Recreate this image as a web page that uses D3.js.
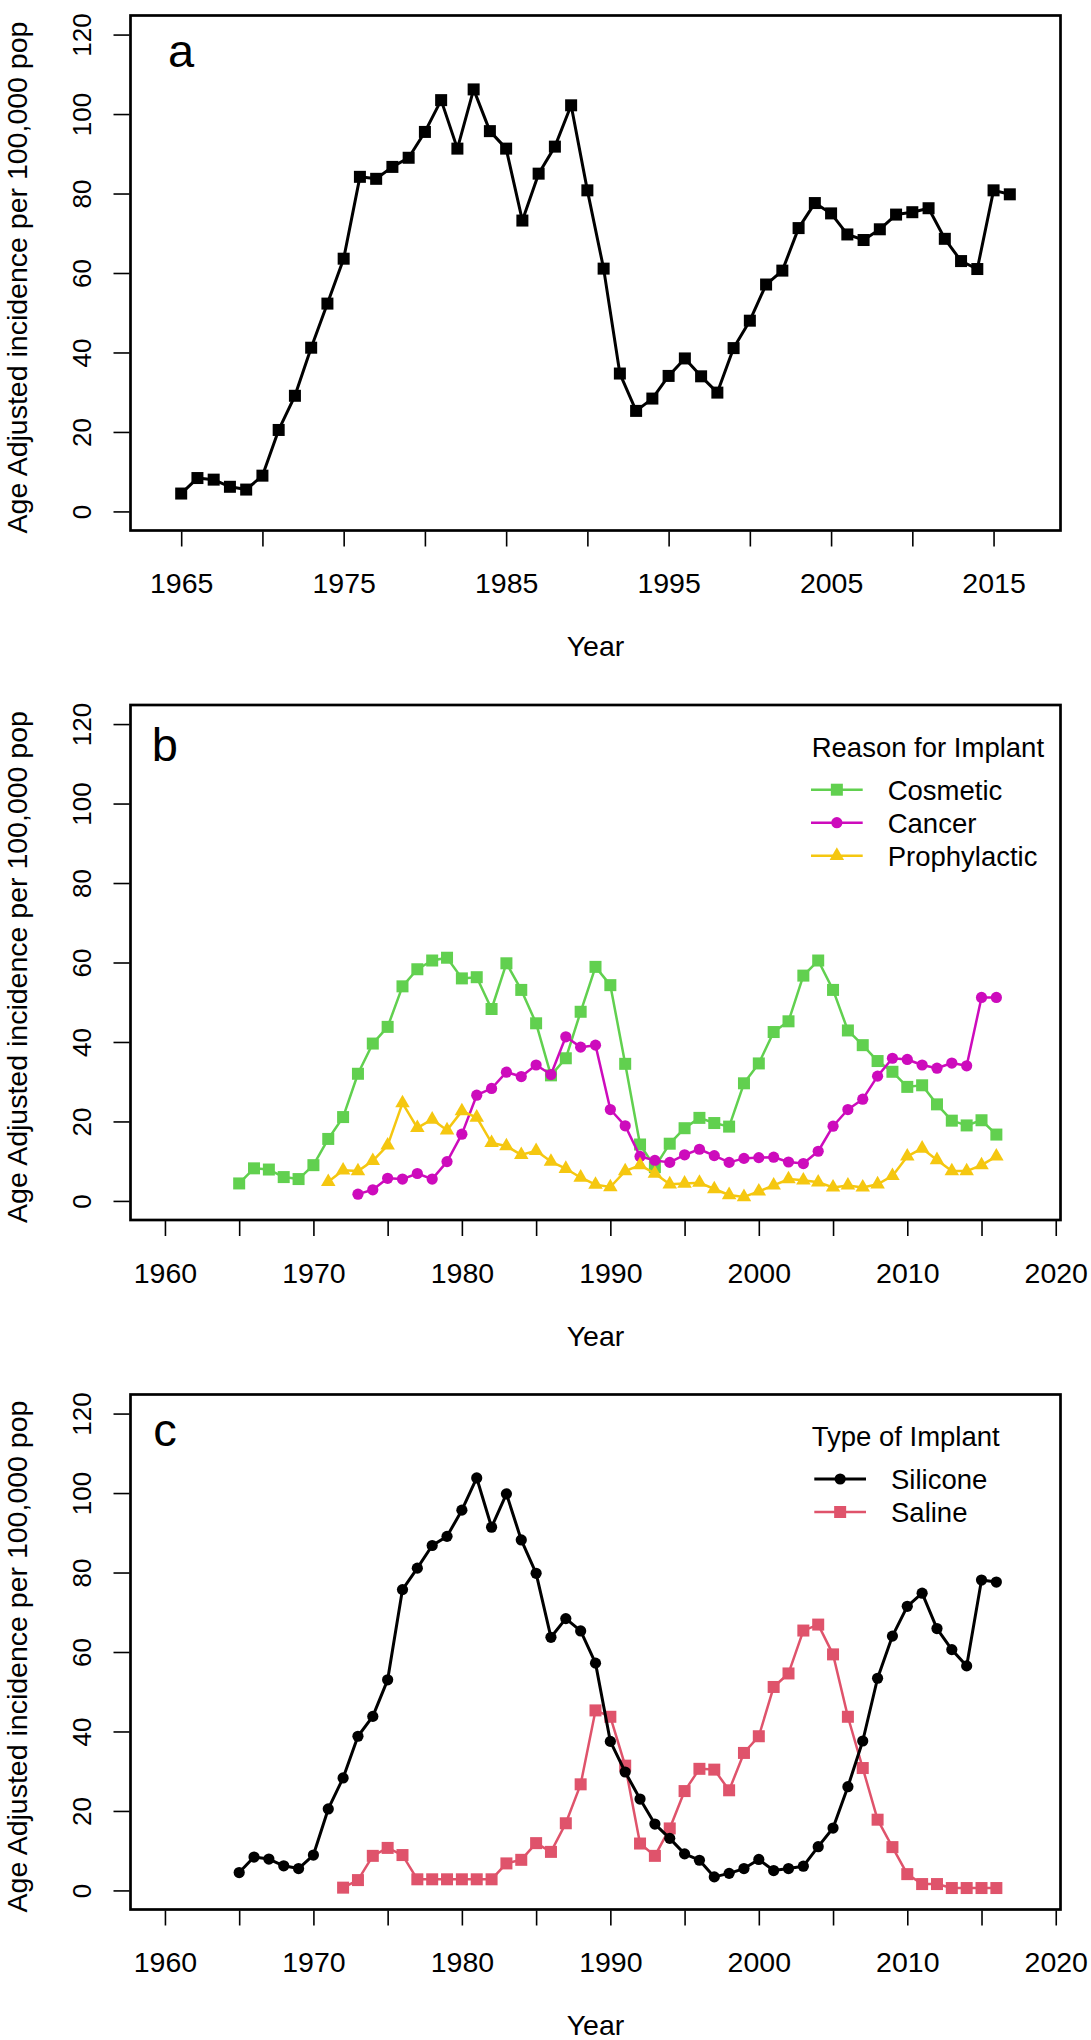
<!DOCTYPE html>
<html><head><meta charset="utf-8">
<script src="https://cdn.jsdelivr.net/npm/d3@7"></script>
<style>
body{margin:0;background:#fff}
text{font-family:"Liberation Sans",Arial,Helvetica,sans-serif;fill:#000}
</style>
</head><body>
<svg id="chart" width="1091" height="2040"></svg>
<script>
// ---------------- data ----------------
const years = [1965,1966,1967,1968,1969,1970,1971,1972,1973,1974,1975,1976,1977,1978,1979,1980,1981,1982,1983,1984,1985,1986,1987,1988,1989,1990,1991,1992,1993,1994,1995,1996,1997,1998,1999,2000,2001,2002,2003,2004,2005,2006,2007,2008,2009,2010,2011,2012,2013,2014,2015,2016];

// panel a: all implants
const totalIncidence = [4.5,8.4,8.0,6.2,5.5,9.0,20.5,29.1,41.2,52.3,
  63.6,84.2,83.7,86.7,89.0,95.5,103.5,91.3,106.2,95.7,
  91.3,73.2,85.0,91.8,102.2,80.8,61.1,34.7,25.3,28.4,
  34.1,38.5,34.0,29.9,41.1,48.0,57.1,60.6,71.3,77.6,
  75.0,69.7,68.3,71.0,74.7,75.3,76.3,68.6,63.0,61.0,
  80.8,79.8];

// panel b: reason for implant
const cosmetic = [4.4,8.2,7.9,6.0,5.5,9.0,15.6,21.1,32.0,39.6,
  43.8,54.0,58.3,60.5,61.2,56.0,56.3,48.3,59.8,53.1,
  44.7,31.6,35.9,47.6,58.9,54.3,34.5,14.2,8.5,14.4,
  18.3,20.9,19.6,18.7,29.6,34.6,42.5,45.2,56.7,60.5,
  53.1,42.9,39.2,35.2,32.5,28.7,29.1,24.3,20.2,19.0,
  20.3,16.7];
const cancer = [null,null,null,null,null,null,null,null,1.7,2.8,
  5.7,5.5,6.9,5.5,9.9,16.8,26.6,28.3,32.4,31.3,
  34.2,31.8,41.3,38.7,39.2,23.0,18.9,11.2,10.2,9.7,
  11.6,13.0,11.4,9.7,10.7,10.9,11.0,9.8,9.4,12.5,
  18.8,23.0,25.6,31.4,35.9,35.6,34.2,33.4,34.7,34.0,
  51.2,51.2];
const prophylactic = [null,null,null,null,null,null,4.8,7.7,7.5,10.1,
  14.0,24.6,18.4,20.5,17.8,22.6,21.0,14.6,13.8,11.6,
  12.6,9.9,8.1,5.9,4.1,3.5,7.5,9.0,6.9,4.2,
  4.4,4.6,3.0,1.5,1.0,2.4,3.9,5.5,5.2,4.7,
  3.4,3.9,3.4,4.2,6.3,11.2,13.2,10.3,7.5,7.5,
  9.0,11.2];

// panel c: type of implant
const silicone = [4.5,8.4,7.9,6.2,5.5,8.9,20.5,28.3,38.8,43.8,
  53.0,75.7,81.1,86.8,89.1,95.7,103.8,91.4,99.8,88.2,
  79.8,63.7,68.4,65.3,57.2,37.5,29.8,23.0,16.7,13.1,
  9.2,7.6,3.4,4.3,5.5,7.8,5.0,5.5,6.1,11.0,
  15.7,26.1,37.6,53.4,64.0,71.5,74.8,65.9,60.6,56.5,
  78.1,77.6];
const saline = [null,null,null,null,null,null,null,0.7,2.6,8.7,
  10.7,8.9,2.8,2.8,2.8,2.8,2.8,2.8,6.8,7.7,
  11.9,9.7,16.9,26.7,45.3,43.7,31.4,11.8,8.7,15.6,
  25.0,30.6,30.4,25.2,34.6,38.8,51.2,54.6,65.4,66.9,
  59.4,43.7,30.8,17.8,10.9,4.1,1.6,1.6,0.6,0.6,
  0.6,0.6];

// axes
const xTicksA = [1965,1970,1975,1980,1985,1990,1995,2000,2005,2010,2015];
const xLabelsA = [1965,1975,1985,1995,2005,2015];
const xTicksBC = [1960,1965,1970,1975,1980,1985,1990,1995,2000,2005,2010,2015,2020];
const xLabelsBC = [1960,1970,1980,1990,2000,2010,2020];
const yTicks = [0,20,40,60,80,100,120];
const xLimA = [1964,2017];
const xLimBC = [1960,2018];
const yLim = [0,120];

const yTitle = "Age Adjusted incidence per 100,000 pop";
const xTitle = "Year";

// ---------------- drawing ----------------
const svg = d3.select("#chart");
const left = 130.5, right = 1060.5, boxH = 515;
const tops = [15.5, 705, 1394.5];

function ext(lim){ const r = lim[1]-lim[0]; return [lim[0]-0.04*r, lim[1]+0.04*r]; }

function trianglePath(cx, cy, s){
  const h = s*Math.sqrt(3)/2;
  return `M${cx},${cy-2*h/3}L${cx+s/2},${cy+h/3}L${cx-s/2},${cy+h/3}Z`;
}
function drawMarker(g, shape, cx, cy, color){
  if(shape==="square"){
    g.append("rect").attr("x",cx-6).attr("y",cy-6).attr("width",12).attr("height",12).attr("fill",color);
  } else if(shape==="circle"){
    g.append("circle").attr("cx",cx).attr("cy",cy).attr("r",5.6).attr("fill",color);
  } else {
    g.append("path").attr("d",trianglePath(cx,cy,14.5)).attr("fill",color);
  }
}

function panel(idx, xLim, xTicks, xLabels, series, letter, letterYear, legend){
  const top = tops[idx];
  const g = svg.append("g");
  const x = d3.scaleLinear().domain(ext(xLim)).range([left,right]);
  const y = d3.scaleLinear().domain(ext(yLim)).range([top+boxH, top]);

  // series
  series.forEach(s=>{
    const pts = years.map((yr,i)=>({yr, v:s.values[i]})).filter(d=>d.v!=null);
    const line = d3.line().x(d=>x(d.yr)).y(d=>y(d.v));
    g.append("path").attr("d",line(pts)).attr("fill","none")
      .attr("stroke",s.color).attr("stroke-width",s.lw).attr("stroke-linejoin","round");
    const mg = g.append("g");
    pts.forEach(d=>drawMarker(mg, s.shape, x(d.yr), y(d.v), s.color));
  });

  // box
  g.append("rect").attr("x",left).attr("y",top).attr("width",right-left).attr("height",boxH)
    .attr("fill","none").attr("stroke","#000").attr("stroke-width",2.7);

  // y axis
  const ya = g.append("g").attr("transform",`translate(${left},0)`)
    .call(d3.axisLeft(y).tickValues(yTicks).tickSize(16).tickFormat(d3.format("d")));
  ya.select(".domain").remove();
  ya.selectAll(".tick line").attr("stroke","#000").attr("stroke-width",1.6).attr("x2",-17).attr("x1",-1);
  ya.selectAll(".tick text").attr("transform","rotate(-90)").attr("x",0).attr("y",-39.5).attr("dy",0)
    .attr("text-anchor","middle").style("font-size","26px").style("font-family",'"Liberation Sans",Arial,sans-serif').attr("fill","#000");

  // x axis
  const xa = g.append("g").attr("transform",`translate(0,${top+boxH})`)
    .call(d3.axisBottom(x).tickValues(xTicks).tickSize(15).tickFormat(d=>xLabels.includes(d)?String(d):""));
  xa.select(".domain").remove();
  xa.selectAll(".tick line").attr("stroke","#000").attr("stroke-width",1.6).attr("y1",1).attr("y2",16);
  xa.selectAll(".tick text").attr("y",62.5).attr("dy",0)
    .style("font-size","28.5px").style("font-family",'"Liberation Sans",Arial,sans-serif').attr("fill","#000");

  // titles
  g.append("text").attr("transform",`translate(27,${top+262}) rotate(-90)`)
    .attr("text-anchor","middle").style("font-size","28.5px").text(yTitle);
  g.append("text").attr("x",(left+right)/2).attr("y",top+boxH+125.5)
    .attr("text-anchor","middle").style("font-size","28.5px").text(xTitle);

  // panel letter
  g.append("text").attr("x",x(letterYear)).attr("y",top+letter.dy)
    .attr("text-anchor","middle").style("font-size","47px").text(letter.t);

  // legend
  if(legend){
    const lg = g.append("g");
    lg.append("text").attr("x",811.7).attr("y",top+51.7).style("font-size","27.5px").text(legend.title);
    legend.items.forEach((s,i)=>{
      const ey = top + legend.y0 + i*legend.dy;
      lg.append("line").attr("x1",legend.x1).attr("x2",legend.x2).attr("y1",ey).attr("y2",ey)
        .attr("stroke",s.color).attr("stroke-width",s.lw);
      drawMarker(lg, s.shape, (legend.x1+legend.x2)/2, ey, s.color);
      lg.append("text").attr("x",legend.tx).attr("y",ey+10).style("font-size","27.5px").text(s.name);
    });
  }
}

const colBlack = "#000000", colGreen = "#61D04F", colMagenta = "#CD0BBC", colYellow = "#F5C710", colRed = "#DF536B";

panel(0, xLimA, xTicksA, xLabelsA,
  [{values: totalIncidence, color: colBlack, shape:"square", lw:3}],
  {t:"a", dy:51.8}, 1965, null);

const bSeries = [
  {name:"Cosmetic", values: cosmetic, color: colGreen, shape:"square", lw:2.5},
  {name:"Cancer", values: cancer, color: colMagenta, shape:"circle", lw:2.5},
  {name:"Prophylactic", values: prophylactic, color: colYellow, shape:"triangle", lw:2.5}
];
panel(1, xLimBC, xTicksBC, xLabelsBC, bSeries, {t:"b", dy:56.3}, 1960,
  {title:"Reason for Implant", items:bSeries, y0:84.7, dy:33, x1:811, x2:862.7, tx:887.7});

const cSilicone = {name:"Silicone", values: silicone, color: colBlack, shape:"circle", lw:3};
const cSaline = {name:"Saline", values: saline, color: colRed, shape:"square", lw:2.5};
panel(2, xLimBC, xTicksBC, xLabelsBC, [cSaline, cSilicone], {t:"c", dy:51.2}, 1960,
  {title:"Type of Implant", items:[cSilicone, cSaline], y0:84.5, dy:33, x1:814.3, x2:866, tx:891});
</script>
</body></html>
